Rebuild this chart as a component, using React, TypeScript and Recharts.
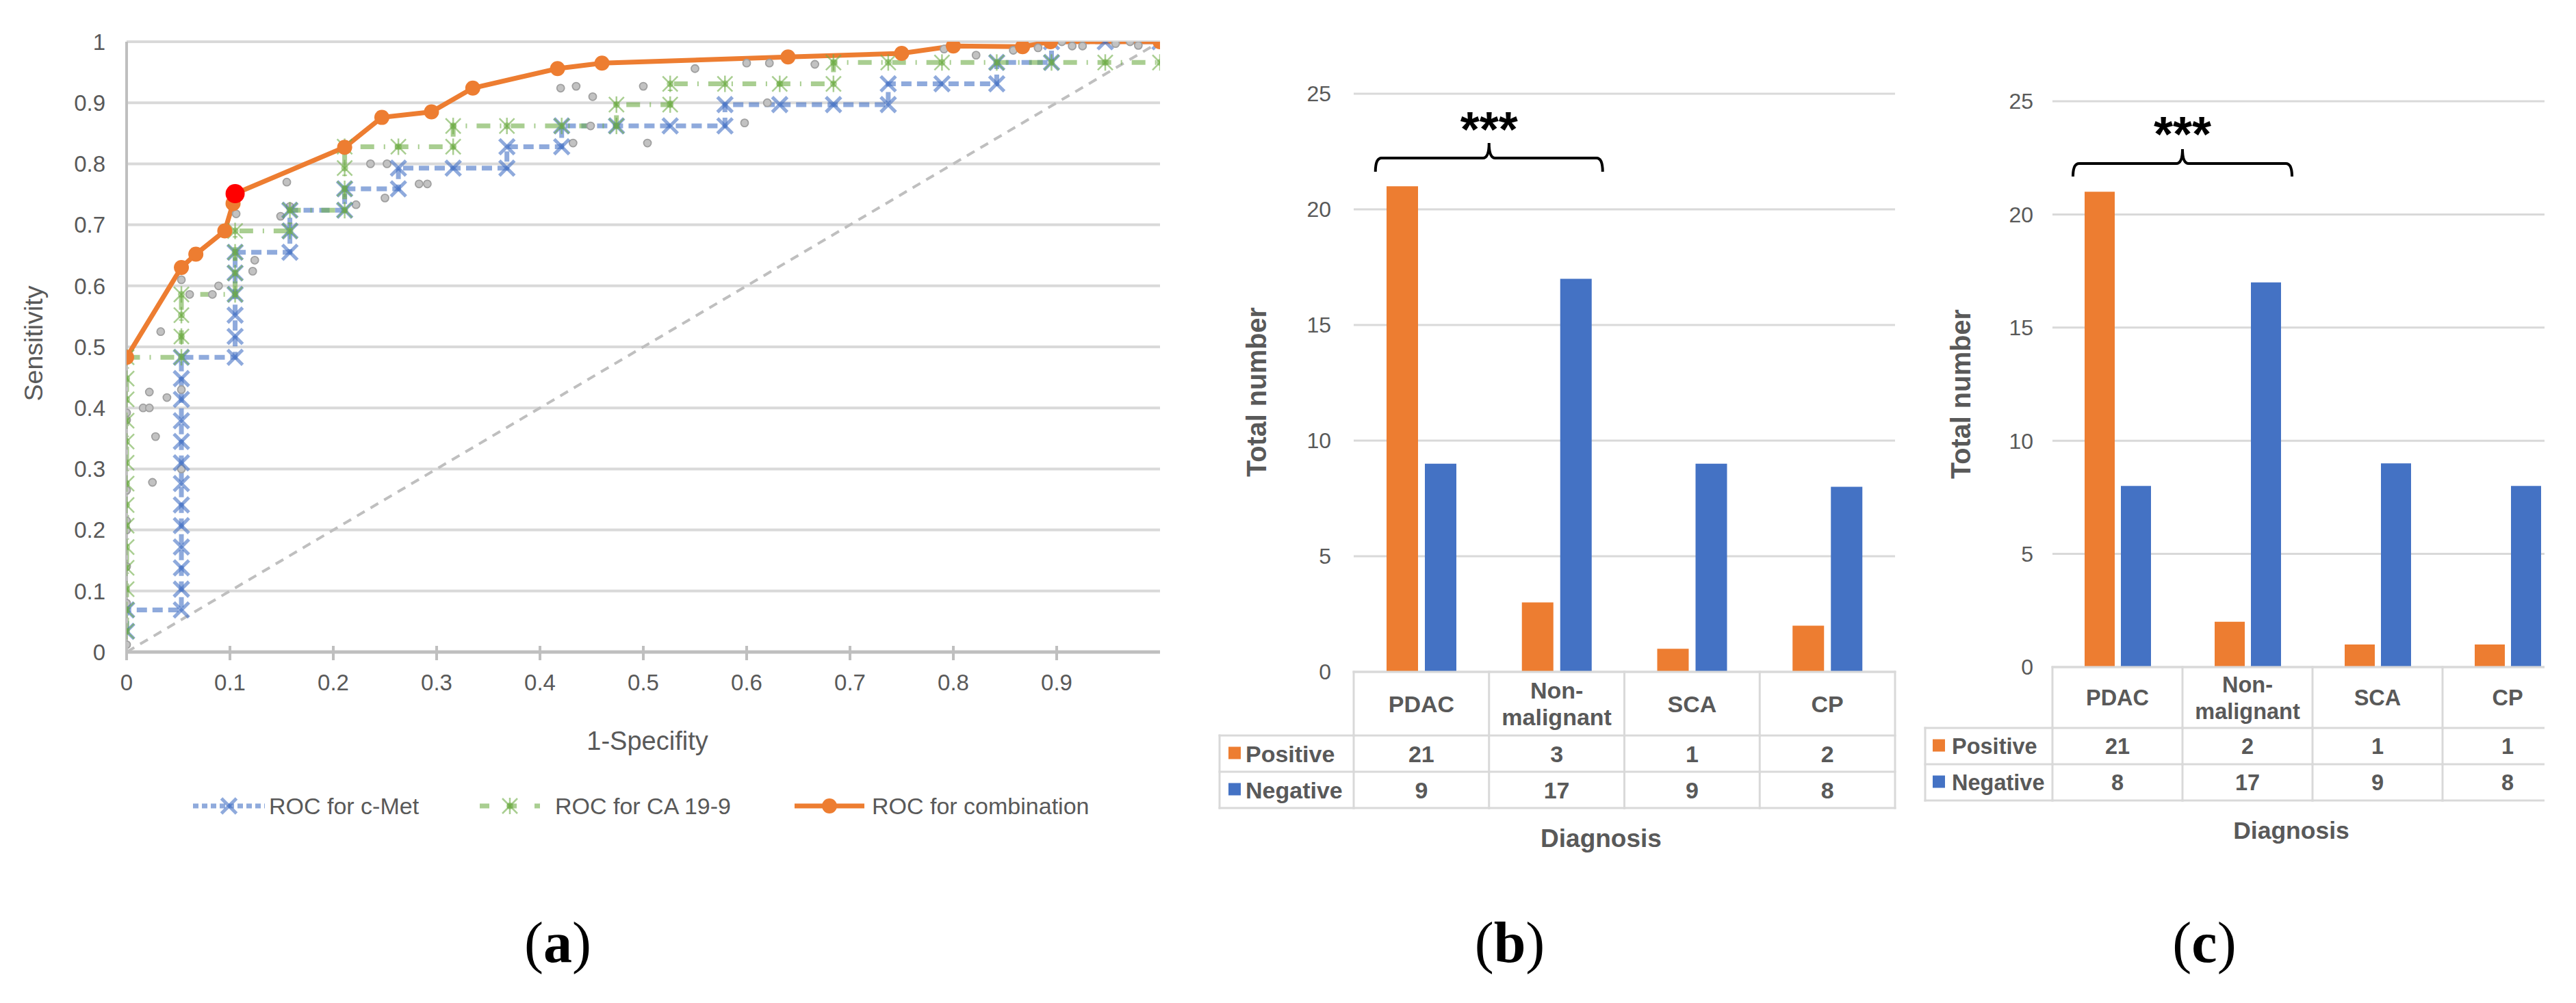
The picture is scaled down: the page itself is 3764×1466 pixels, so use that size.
import React from 'react';
import {
  ComposedChart,
  Line,
  Scatter,
  XAxis,
  YAxis,
  CartesianGrid,
  Legend,
  Label,
  BarChart,
  Bar,
  Customized,
} from 'recharts';

const FONT = '"Liberation Sans", Arial, Helvetica, sans-serif';
const SERIF = '"Liberation Serif", "Times New Roman", serif';
const TXT = '#595959';
const ORANGE = '#ED7D31';
const BLUE = '#4472C4';
const GREEN = '#70AD47';
const GRID = '#d9d9d9';
const AXIS = '#bfbfbf';

// ---------------- Panel (a): ROC curves ----------------
const rocTicksX = [0, 0.1, 0.2, 0.3, 0.4, 0.5, 0.6, 0.7, 0.8, 0.9];
const rocTicksY = [0, 0.1, 0.2, 0.3, 0.4, 0.5, 0.6, 0.7, 0.8, 0.9, 1];

const rocDiagonal = [
  { x: 0, y: 0 },
  { x: 1, y: 1 },
];

const rocCMet = [
  { x: 0, y: 0.034 }, { x: 0, y: 0.069 },
  { x: 0.053, y: 0.069 }, { x: 0.053, y: 0.103 }, { x: 0.053, y: 0.138 }, { x: 0.053, y: 0.172 },
  { x: 0.053, y: 0.207 }, { x: 0.053, y: 0.241 }, { x: 0.053, y: 0.276 }, { x: 0.053, y: 0.31 },
  { x: 0.053, y: 0.345 }, { x: 0.053, y: 0.379 }, { x: 0.053, y: 0.414 }, { x: 0.053, y: 0.448 },
  { x: 0.053, y: 0.483 },
  { x: 0.105, y: 0.483 }, { x: 0.105, y: 0.517 }, { x: 0.105, y: 0.552 }, { x: 0.105, y: 0.586 },
  { x: 0.105, y: 0.621 }, { x: 0.105, y: 0.655 },
  { x: 0.158, y: 0.655 }, { x: 0.158, y: 0.69 }, { x: 0.158, y: 0.724 },
  { x: 0.211, y: 0.724 }, { x: 0.211, y: 0.759 },
  { x: 0.263, y: 0.759 }, { x: 0.263, y: 0.793 },
  { x: 0.316, y: 0.793 }, { x: 0.368, y: 0.793 }, { x: 0.368, y: 0.828 },
  { x: 0.421, y: 0.828 }, { x: 0.421, y: 0.862 },
  { x: 0.474, y: 0.862 }, { x: 0.526, y: 0.862 }, { x: 0.579, y: 0.862 }, { x: 0.579, y: 0.897 },
  { x: 0.632, y: 0.897 }, { x: 0.684, y: 0.897 }, { x: 0.737, y: 0.897 }, { x: 0.737, y: 0.931 },
  { x: 0.789, y: 0.931 }, { x: 0.842, y: 0.931 }, { x: 0.842, y: 0.966 },
  { x: 0.895, y: 0.966 }, { x: 0.895, y: 1 }, { x: 0.947, y: 1 }, { x: 1, y: 1 },
];

const rocCA199 = [
  { x: 0, y: 0.034 }, { x: 0, y: 0.069 }, { x: 0, y: 0.103 }, { x: 0, y: 0.138 }, { x: 0, y: 0.172 },
  { x: 0, y: 0.207 }, { x: 0, y: 0.241 }, { x: 0, y: 0.276 }, { x: 0, y: 0.31 }, { x: 0, y: 0.345 },
  { x: 0, y: 0.379 }, { x: 0, y: 0.414 }, { x: 0, y: 0.448 }, { x: 0, y: 0.483 },
  { x: 0.053, y: 0.483 }, { x: 0.053, y: 0.517 }, { x: 0.053, y: 0.552 }, { x: 0.053, y: 0.586 },
  { x: 0.105, y: 0.586 }, { x: 0.105, y: 0.621 }, { x: 0.105, y: 0.655 }, { x: 0.105, y: 0.69 },
  { x: 0.158, y: 0.69 }, { x: 0.158, y: 0.724 },
  { x: 0.211, y: 0.724 }, { x: 0.211, y: 0.759 }, { x: 0.211, y: 0.793 }, { x: 0.211, y: 0.828 },
  { x: 0.263, y: 0.828 }, { x: 0.316, y: 0.828 }, { x: 0.316, y: 0.862 },
  { x: 0.368, y: 0.862 }, { x: 0.421, y: 0.862 }, { x: 0.474, y: 0.862 }, { x: 0.474, y: 0.897 },
  { x: 0.526, y: 0.897 }, { x: 0.526, y: 0.931 },
  { x: 0.579, y: 0.931 }, { x: 0.632, y: 0.931 }, { x: 0.684, y: 0.931 }, { x: 0.684, y: 0.966 },
  { x: 0.737, y: 0.966 }, { x: 0.789, y: 0.966 }, { x: 0.842, y: 0.966 }, { x: 0.895, y: 0.966 },
  { x: 0.947, y: 0.966 }, { x: 1, y: 0.966 },
];

const rocCombination = [
  { x: 0, y: 0.483 }, { x: 0.053, y: 0.63 }, { x: 0.067, y: 0.652 }, { x: 0.095, y: 0.69 },
  { x: 0.103, y: 0.735 }, { x: 0.105, y: 0.751 }, { x: 0.211, y: 0.827 }, { x: 0.247, y: 0.876 },
  { x: 0.295, y: 0.885 }, { x: 0.335, y: 0.924 }, { x: 0.417, y: 0.956 }, { x: 0.46, y: 0.965 },
  { x: 0.64, y: 0.975 }, { x: 0.75, y: 0.981 }, { x: 0.8, y: 0.993 }, { x: 0.867, y: 0.992 },
  { x: 0.894, y: 1 }, { x: 1, y: 1 },
];

const optimalCutoff = [{ x: 0.105, y: 0.751 }];

const rocRawPoints = [
  { x: 0, y: 0.012 }, { x: 0, y: 0.08 }, { x: 0, y: 0.14 }, { x: 0, y: 0.2 }, { x: 0, y: 0.215 },
  { x: 0, y: 0.265 }, { x: 0, y: 0.38 }, { x: 0, y: 0.392 },
  { x: 0.016, y: 0.4 }, { x: 0.022, y: 0.4 }, { x: 0.022, y: 0.426 }, { x: 0.039, y: 0.417 },
  { x: 0.028, y: 0.353 }, { x: 0.025, y: 0.278 }, { x: 0.033, y: 0.525 },
  { x: 0.053, y: 0.3 }, { x: 0.053, y: 0.43 }, { x: 0.053, y: 0.61 }, { x: 0.061, y: 0.586 },
  { x: 0.083, y: 0.586 }, { x: 0.089, y: 0.6 }, { x: 0.106, y: 0.718 }, { x: 0.122, y: 0.624 },
  { x: 0.124, y: 0.642 }, { x: 0.149, y: 0.714 }, { x: 0.155, y: 0.77 }, { x: 0.158, y: 0.73 },
  { x: 0.222, y: 0.733 }, { x: 0.236, y: 0.8 }, { x: 0.252, y: 0.8 }, { x: 0.25, y: 0.744 },
  { x: 0.283, y: 0.767 }, { x: 0.291, y: 0.767 }, { x: 0.42, y: 0.924 }, { x: 0.435, y: 0.927 },
  { x: 0.451, y: 0.91 }, { x: 0.5, y: 0.927 }, { x: 0.55, y: 0.956 }, { x: 0.6, y: 0.965 },
  { x: 0.622, y: 0.965 }, { x: 0.666, y: 0.963 }, { x: 0.432, y: 0.834 }, { x: 0.504, y: 0.834 },
  { x: 0.598, y: 0.867 }, { x: 0.62, y: 0.9 }, { x: 0.449, y: 0.862 }, { x: 0.791, y: 0.988 },
  { x: 0.822, y: 0.978 }, { x: 0.858, y: 0.986 }, { x: 0.882, y: 0.99 }, { x: 0.905, y: 1 },
  { x: 0.915, y: 0.993 }, { x: 0.925, y: 0.993 }, { x: 0.957, y: 0.997 }, { x: 0.971, y: 1 },
  { x: 0.979, y: 0.994 },
];

const rocLegendLabels = ['ROC for c-Met', 'ROC for CA 19-9', 'ROC for combination'];
const rocXTitle = '1-Specifity';
const rocYTitle = 'Sensitivity';

// ---------------- Panels (b) and (c): counts ----------------
const diagnosisCategories = ['PDAC', 'Non-malignant', 'SCA', 'CP'];
const positiveB = [21, 3, 1, 2];
const negativeB = [9, 17, 9, 8];
const positiveC = [21, 2, 1, 1];
const negativeC = [8, 17, 9, 8];
const countTicks = [0, 5, 10, 15, 20, 25];
const rowLabels = ['Positive', 'Negative'];
const significance = '***';

// ---------------- Markers ----------------
const CrossMark = ({ cx, cy }: any) => {
  const s = 11;
  return (
    <g>
      <line x1={cx - s} y1={cy - s} x2={cx + s} y2={cy + s} stroke={BLUE} strokeOpacity={0.6} strokeWidth={5} />
      <line x1={cx - s} y1={cy + s} x2={cx + s} y2={cy - s} stroke={BLUE} strokeOpacity={0.6} strokeWidth={5} />
    </g>
  );
};

const StarMark = ({ cx, cy }: any) => {
  const s = 11;
  return (
    <g>
      <line x1={cx - s} y1={cy - s} x2={cx + s} y2={cy + s} stroke={GREEN} strokeOpacity={0.6} strokeWidth={2.5} />
      <line x1={cx - s} y1={cy + s} x2={cx + s} y2={cy - s} stroke={GREEN} strokeOpacity={0.6} strokeWidth={2.5} />
      <line x1={cx} y1={cy - s - 1} x2={cx} y2={cy + s + 1} stroke={GREEN} strokeOpacity={0.6} strokeWidth={2.5} />
      <circle cx={cx} cy={cy} r={5} fill={GREEN} fillOpacity={0.55} />
    </g>
  );
};

const RawDot = ({ cx, cy }: any) => (
  <circle cx={cx} cy={cy} r={5.5} fill="#c2c2c2" stroke="#a0a0a0" strokeWidth={1.8} />
);

const RocXTick = ({ x, y, payload }: any) => (
  <g>
    <line x1={x} x2={x} y1={y - 11} y2={y + 10} stroke={AXIS} strokeWidth={4} />
    <text x={x} y={y + 54} textAnchor="middle" fill={TXT} fontSize={33} fontFamily={FONT}>
      {String(payload.value)}
    </text>
  </g>
);

const RocXLabel = ({ viewBox }: any) => {
  const vb = viewBox || { x: 185, y: 953, width: 1510 };
  return (
    <text x={vb.x + vb.width / 2 + 6} y={vb.y + 143} textAnchor="middle" fill={TXT} fontSize={38} fontFamily={FONT}>
      {rocXTitle}
    </text>
  );
};

const RocYLabel = ({ viewBox }: any) => {
  const vb = viewBox || { x: 0, y: 61, height: 892 };
  const cx = vb.x + 62;
  const cy = vb.y + vb.height / 2 - 5;
  return (
    <text x={cx} y={cy} transform={`rotate(-90 ${cx} ${cy})`} textAnchor="middle" fill={TXT} fontSize={37.5} fontFamily={FONT}>
      {rocYTitle}
    </text>
  );
};

const LegendSample = ({ x1, x2, y, kind }: any) => {
  const mid = (x1 + x2) / 2;
  if (kind === 0) {
    return (
      <g>
        <line x1={x1} x2={x2} y1={y} y2={y} stroke={BLUE} strokeOpacity={0.6} strokeWidth={7} strokeDasharray="8 5" />
        <CrossMark cx={mid} cy={y} />
      </g>
    );
  }
  if (kind === 1) {
    return (
      <g>
        <line x1={x1} x2={x2} y1={y} y2={y} stroke={GREEN} strokeOpacity={0.6} strokeWidth={7} strokeDasharray="14 26" />
        <StarMark cx={mid} cy={y} />
      </g>
    );
  }
  return (
    <g>
      <line x1={x1} x2={x2} y1={y} y2={y} stroke={ORANGE} strokeWidth={7} />
      <circle cx={mid} cy={y} r={11} fill={ORANGE} />
    </g>
  );
};

const RocLegend = () => {
  const samples = [
    [282, 387, 393],
    [701, 789, 811],
    [1161, 1263, 1274],
  ];
  return (
    <svg width={1760} height={40} style={{ display: 'block' }}>
      {rocLegendLabels.map((lab, i) => (
        <g key={lab}>
          <LegendSample x1={samples[i][0]} x2={samples[i][1]} y={20} kind={i} />
          <text x={samples[i][2]} y={32} fill={TXT} fontSize={34} fontFamily={FONT}>
            {lab}
          </text>
        </g>
      ))}
    </svg>
  );
};

const RocPanel = () => (
  <ComposedChart width={1760} height={1198} margin={{ top: 61, right: 65, bottom: 0, left: 0 }}>
    <CartesianGrid vertical={false} stroke={GRID} strokeWidth={4} />
    <XAxis
      type="number"
      dataKey="x"
      domain={[0, 1]}
      ticks={rocTicksX}
      interval={0}
      height={205}
      tickSize={0}
      tickLine={false}
      axisLine={{ stroke: AXIS, strokeWidth: 5 }}
      tick={<RocXTick />}
      allowDataOverflow
      label={<Label content={<RocXLabel />} />}
    />
    <YAxis
      type="number"
      dataKey="y"
      domain={[0, 1]}
      ticks={rocTicksY}
      interval={0}
      width={185}
      tickSize={0}
      tickMargin={31}
      tickLine={false}
      axisLine={{ stroke: AXIS, strokeWidth: 4 }}
      tick={{ fill: TXT, fontSize: 33, fontFamily: FONT }}
      allowDataOverflow
      label={<Label content={<RocYLabel />} />}
    />
    <Scatter data={rocRawPoints} shape={<RawDot />} isAnimationActive={false} legendType="none" />
    <Line
      data={rocDiagonal}
      dataKey="y"
      type="linear"
      stroke={AXIS}
      strokeWidth={4}
      strokeDasharray="13 10"
      dot={false}
      activeDot={false}
      isAnimationActive={false}
      legendType="none"
    />
    <Line
      data={rocCMet}
      dataKey="y"
      name={rocLegendLabels[0]}
      type="linear"
      stroke={BLUE}
      strokeOpacity={0.6}
      strokeWidth={7}
      strokeDasharray="15 8"
      dot={(p: any) => <CrossMark key={`cm${p.index}`} cx={p.cx} cy={p.cy} />}
      activeDot={false}
      isAnimationActive={false}
    />
    <Line
      data={rocCA199}
      dataKey="y"
      name={rocLegendLabels[1]}
      type="linear"
      stroke={GREEN}
      strokeOpacity={0.6}
      strokeWidth={7}
      strokeDasharray="20 14 2 14"
      dot={(p: any) => <StarMark key={`ca${p.index}`} cx={p.cx} cy={p.cy} />}
      activeDot={false}
      isAnimationActive={false}
    />
    <Line
      data={rocCombination}
      dataKey="y"
      name={rocLegendLabels[2]}
      type="linear"
      stroke={ORANGE}
      strokeWidth={7}
      dot={{ r: 11, fill: ORANGE, stroke: ORANGE, strokeWidth: 0 }}
      activeDot={false}
      isAnimationActive={false}
    />
    <Line
      data={optimalCutoff}
      dataKey="y"
      type="linear"
      stroke="none"
      dot={{ r: 14, fill: '#FF0000', stroke: '#FF0000', strokeWidth: 0 }}
      activeDot={false}
      isAnimationActive={false}
      legendType="none"
    />
    <Legend verticalAlign="bottom" wrapperStyle={{ left: 0, width: 1760 }} content={() => <RocLegend />} />
  </ComposedChart>
);

// ---------------- Count panels ----------------
type PanelCfg = {
  positive: number[];
  negative: number[];
  width: number;
  height: number;
  top: number;
  yAxisW: number;
  right: number;
  xAxisH: number;
  barSize: number;
  barGap: number;
  headerH: number;
  rowH: number;
  rowLeft: number;
  tableFont: number;
  tickMargin: number;
  titleDX: number;
  titleDY: number;
  titleFont: number;
  yTitleX: number;
  yTitleY: number;
  braceHalf: number;
  braceLine: number;
  braceEnd: number;
  bracePeak: number;
  starsBase: number;
  squareDX: number;
  labelDX: number;
};

const cfgB: PanelCfg = {
  positive: positiveB,
  negative: negativeB,
  width: 1019,
  height: 1262,
  top: 137,
  yAxisW: 218,
  right: 10,
  xAxisH: 280,
  barSize: 46,
  barGap: 10,
  headerH: 93,
  rowH: 53,
  rowLeft: 22,
  tableFont: 34,
  tickMargin: 33,
  titleDX: -34,
  titleDY: 256,
  titleFont: 37,
  yTitleX: 76,
  yTitleY: 573,
  braceHalf: 166,
  braceLine: 231,
  braceEnd: 251,
  bracePeak: 209,
  starsBase: 214,
  squareDX: 13,
  labelDX: 38,
};

const cfgC: PanelCfg = {
  positive: positiveC,
  negative: negativeC,
  width: 979,
  height: 1235,
  top: 148,
  yAxisW: 209,
  right: 10,
  xAxisH: 260,
  barSize: 44,
  barGap: 9,
  headerH: 89,
  rowH: 53,
  rowLeft: 23,
  tableFont: 32.5,
  tickMargin: 28,
  titleDX: -31,
  titleDY: 251,
  titleFont: 35.5,
  yTitleX: 75,
  yTitleY: 576,
  braceHalf: 160,
  braceLine: 239,
  braceEnd: 258,
  bracePeak: 218,
  starsBase: 221,
  squareDX: 11,
  labelDX: 39,
};

const splitName = (name: string) => {
  const i = name.indexOf('-');
  if (i < 0) return [name];
  return [name.slice(0, i + 1), name.slice(i + 1)];
};

const makeTableTick = (cfg: PanelCfg) => (props: any) => {
  const { x, y, payload } = props;
  const idx = diagnosisCategories.indexOf(payload.value);
  const colW = (cfg.width - cfg.yAxisW - cfg.right) / diagnosisCategories.length;
  const left = x - colW / 2;
  const right = x + colW / 2;
  const r1 = y + cfg.headerH;
  const r2 = r1 + cfg.rowH;
  const r3 = r2 + cfg.rowH;
  const f = cfg.tableFont;
  const base = f * 0.36;
  const lines = splitName(String(payload.value));
  const ln = { stroke: GRID, strokeWidth: 3, strokeLinecap: 'square' as const };
  const txt = { fill: TXT, fontSize: f, fontFamily: FONT, fontWeight: 700 };
  const rowCenters = [r1 + cfg.rowH / 2, r2 + cfg.rowH / 2];
  const values = [cfg.positive[idx], cfg.negative[idx]];
  const rowLeft = cfg.rowLeft;
  return (
    <g>
      <line x1={left} x2={right} y1={y} y2={y} {...ln} />
      <line x1={left} x2={right} y1={r1} y2={r1} {...ln} />
      <line x1={left} x2={right} y1={r2} y2={r2} {...ln} />
      <line x1={left} x2={right} y1={r3} y2={r3} {...ln} />
      <line x1={left} x2={left} y1={y} y2={r3} {...ln} />
      {idx === diagnosisCategories.length - 1 && <line x1={right} x2={right} y1={y} y2={r3} {...ln} />}
      {lines.length === 1 ? (
        <text x={x} y={y + cfg.headerH / 2 + base} textAnchor="middle" {...txt}>
          {lines[0]}
        </text>
      ) : (
        <g>
          <text x={x} y={y + cfg.headerH / 2 - 8} textAnchor="middle" {...txt}>
            {lines[0]}
          </text>
          <text x={x} y={y + cfg.headerH / 2 + 31} textAnchor="middle" {...txt}>
            {lines[1]}
          </text>
        </g>
      )}
      {values.map((v, i) => (
        <text key={i} x={x} y={rowCenters[i] + base} textAnchor="middle" {...txt}>
          {v}
        </text>
      ))}
      {idx === 0 && (
        <g>
          <line x1={rowLeft} x2={left} y1={r1} y2={r1} {...ln} />
          <line x1={rowLeft} x2={left} y1={r2} y2={r2} {...ln} />
          <line x1={rowLeft} x2={left} y1={r3} y2={r3} {...ln} />
          <line x1={rowLeft} x2={rowLeft} y1={r1} y2={r3} {...ln} />
          {rowLabels.map((lab, i) => (
            <g key={lab}>
              <rect
                x={rowLeft + cfg.squareDX}
                y={rowCenters[i] - 10}
                width={18}
                height={18}
                fill={i === 0 ? ORANGE : BLUE}
              />
              <text x={rowLeft + cfg.labelDX} y={rowCenters[i] + base} {...txt}>
                {lab}
              </text>
            </g>
          ))}
        </g>
      )}
    </g>
  );
};

const makeXTitle = (cfg: PanelCfg) => ({ viewBox }: any) => {
  const vb = viewBox || { x: cfg.yAxisW, y: cfg.top, width: 0 };
  return (
    <text
      x={vb.x + vb.width / 2 + cfg.titleDX}
      y={vb.y + cfg.titleDY}
      textAnchor="middle"
      fill={TXT}
      fontSize={cfg.titleFont}
      fontFamily={FONT}
      fontWeight={700}
    >
      Diagnosis
    </text>
  );
};

const makeYTitle = (cfg: PanelCfg) => () => {
  const cx = cfg.yTitleX + 14;
  const cy = cfg.yTitleY;
  return (
    <text
      x={cx}
      y={cy}
      transform={`rotate(-90 ${cx} ${cy})`}
      textAnchor="middle"
      fill={TXT}
      fontSize={41}
      fontFamily={FONT}
      fontWeight={700}
      textLength={248}
      lengthAdjust="spacingAndGlyphs"
    >
      Total number
    </text>
  );
};

const makeBrace = (cfg: PanelCfg) => () => {
  const colW = (cfg.width - cfg.yAxisW - cfg.right) / diagnosisCategories.length;
  const cx = cfg.yAxisW + colW;
  const x1 = cx - cfg.braceHalf;
  const x2 = cx + cfg.braceHalf;
  const r = 9;
  const yl = cfg.braceLine;
  const d = `M${x1},${cfg.braceEnd} Q${x1},${yl} ${x1 + r},${yl} L${cx - r},${yl} Q${cx},${yl} ${cx},${cfg.bracePeak} Q${cx},${yl} ${cx + r},${yl} L${x2 - r},${yl} Q${x2},${yl} ${x2},${cfg.braceEnd}`;
  return (
    <g>
      <path d={d} fill="none" stroke="#000" strokeWidth={4} />
      <text x={cx} y={cfg.starsBase} textAnchor="middle" fill="#000" fontSize={72} fontWeight={700} fontFamily={FONT}>
        {significance}
      </text>
    </g>
  );
};

const CountPanel = ({ cfg }: { cfg: PanelCfg }) => {
  const data = diagnosisCategories.map((name, i) => ({
    name,
    positive: cfg.positive[i],
    negative: cfg.negative[i],
  }));
  const TableTick = makeTableTick(cfg);
  const XTitle = makeXTitle(cfg);
  const YTitle = makeYTitle(cfg);
  const Brace = makeBrace(cfg);
  return (
    <BarChart
      width={cfg.width}
      height={cfg.height}
      data={data}
      margin={{ top: cfg.top, right: cfg.right, bottom: 0, left: 0 }}
      barSize={cfg.barSize}
      barGap={cfg.barGap}
    >
      <CartesianGrid vertical={false} stroke={GRID} strokeWidth={3} />
      <XAxis
        dataKey="name"
        height={cfg.xAxisH}
        interval={0}
        tickSize={0}
        tickMargin={0}
        tickLine={false}
        axisLine={false}
        tick={(p: any) => <TableTick {...p} />}
        label={<Label content={<XTitle />} />}
      />
      <YAxis
        type="number"
        domain={[0, 25]}
        ticks={countTicks}
        interval={0}
        width={cfg.yAxisW}
        tickSize={0}
        tickMargin={cfg.tickMargin}
        tickLine={false}
        axisLine={false}
        tick={{ fill: TXT, fontSize: 32, fontFamily: FONT }}
        label={<Label content={<YTitle />} />}
      />
      <Bar dataKey="positive" name={rowLabels[0]} fill={ORANGE} isAnimationActive={false} />
      <Bar dataKey="negative" name={rowLabels[1]} fill={BLUE} isAnimationActive={false} />
      <Customized component={<Brace />} />
    </BarChart>
  );
};

const PanelTag = ({ x, letter }: { x: number; letter: string }) => (
  <text x={x} y={1406} textAnchor="middle" fill="#000" fontSize={84} fontFamily={SERIF}>
    (<tspan fontWeight={700}>{letter}</tspan>)
  </text>
);

export default function App() {
  return (
    <div
      style={{
        position: 'absolute',
        left: 0,
        top: 0,
        width: 3764,
        height: 1466,
        background: '#ffffff',
        overflow: 'hidden',
      }}
    >
      <div style={{ position: 'absolute', left: 0, top: 0 }}>
        <RocPanel />
      </div>
      <div style={{ position: 'absolute', left: 1760, top: 0 }}>
        <CountPanel cfg={cfgB} />
      </div>
      <div style={{ position: 'absolute', left: 2790, top: 0, width: 928, height: 1300, overflow: 'hidden' }}>
        <CountPanel cfg={cfgC} />
      </div>
      <svg
        width={3764}
        height={1466}
        style={{ position: 'absolute', left: 0, top: 0, pointerEvents: 'none' }}
      >
        <PanelTag x={815} letter="a" />
        <PanelTag x={2206} letter="b" />
        <PanelTag x={3221} letter="c" />
      </svg>
    </div>
  );
}
